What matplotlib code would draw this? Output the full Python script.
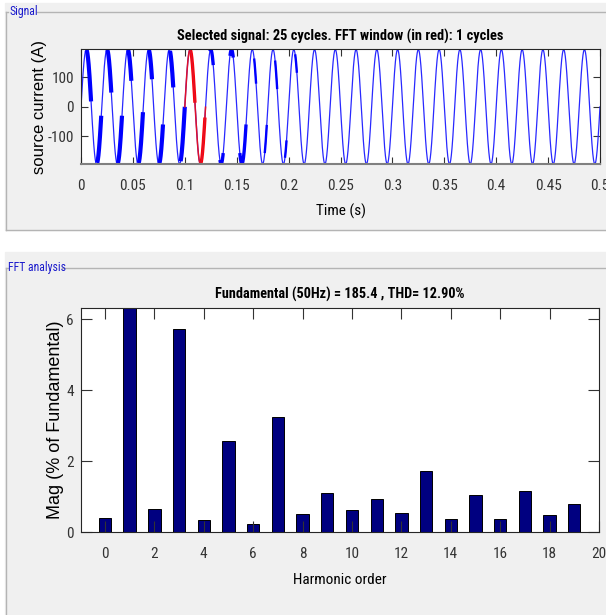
import numpy as np
import matplotlib
matplotlib.use("Agg")
import matplotlib.pyplot as plt
from matplotlib.patches import Rectangle
from matplotlib.lines import Line2D

# signal data
f0 = 50.0            # Hz
n_cycles = 25
peak = 195.0         # A, peak of displayed current
fft_win = (0.10, 0.12)
# time spans where the switching ripple makes the trace look thick
ripple_spans = [
    (0.0050, 0.0097), (0.0148, 0.0195),
    (0.0253, 0.0292), (0.0350, 0.0395),
    (0.0453, 0.0485), (0.0549, 0.0597),
    (0.0653, 0.0684), (0.0750, 0.0790),
    (0.0857, 0.0889), (0.0960, 0.1000),
    (0.1050, 0.1098), (0.1146, 0.1194),
    (0.1242, 0.1274), (0.1338, 0.1370),
    (0.1435, 0.1467), (0.1530, 0.1590),
    (0.1668, 0.1687), (0.1770, 0.1790),
    (0.1870, 0.1890), (0.1965, 0.1980),
    (0.2063, 0.2080),
]

# FFT data
harmonics = np.arange(0, 20)
mag = [0.39, 100.0, 0.65, 5.73, 0.33, 2.55, 0.23, 3.23, 0.51, 1.11,
       0.62, 0.93, 0.53, 1.73, 0.37, 1.03, 0.38, 1.15, 0.47, 0.78]
fundamental = 185.4
thd = 12.90

narrow = ['Liberation Sans Narrow', 'Roboto Condensed', 'Open Sans Condensed',
          'DejaVu Sans Condensed', 'Liberation Sans', 'DejaVu Sans']
wide = ['Liberation Sans', 'DejaVu Sans']
plt.rcParams['font.family'] = narrow
plt.rcParams['font.stretch'] = 'condensed'
plt.rcParams['axes.unicode_minus'] = False

W, H = 606, 615
fig = plt.figure(figsize=(W / 100, H / 100), dpi=100, facecolor='white')

def fx(x):
    return x / W

def fy(y):
    return 1 - y / H

# panel backgrounds
bg = '#f0f0f0'
fig.patches.append(Rectangle((fx(5), fy(230)), fx(W - 5), fy(3) - fy(230),
                             transform=fig.transFigure, color=bg, zorder=-10))
fig.patches.append(Rectangle((fx(5), 0), fx(W - 5), fy(252),
                             transform=fig.transFigure, color=bg, zorder=-10))
fc = '#b4b4b4'
for xs, ys in [((6, 8), (12, 12)), ((37, W), (12, 12)), ((6, 6), (12, 230)),
               ((6, W), (230, 230)),
               ((6, 8), (268, 268)), ((62, W), (268, 268)), ((6, 6), (268, H))]:
    fig.lines.append(Line2D([fx(v) for v in xs], [fy(v) for v in ys],
                            transform=fig.transFigure, color=fc, lw=1, zorder=-5))
fig.text(fx(9), fy(12), 'Signal', color='#1a1acc', fontsize=8.5, va='center')
fig.text(fx(8), fy(268), 'FFT analysis', color='#1a1acc', fontsize=8.5, va='center')

# ---- signal axes
ax1 = fig.add_axes([fx(81), fy(164), fx(600) - fx(81), fy(49) - fy(164)])
t = np.linspace(0, n_cycles / f0, 20001)
i_s = peak * np.sin(2 * np.pi * f0 * t)
ax1.plot(t, i_s, color='#2828ff', lw=0.9)
for a, b in ripple_spans:
    m = (t >= a) & (t <= b)
    lw = 3.0 if a < 0.1 else (2.4 if a < 0.16 else 1.7)
    col = 'red' if fft_win[0] <= a < fft_win[1] else '#0000ff'
    ax1.plot(t[m], i_s[m], color=col, lw=lw, solid_capstyle='butt')
w = (t >= fft_win[0]) & (t <= fft_win[1])
ax1.plot(t[w], i_s[w], color='#e0102a', lw=1.1)
ax1.set_xlim(0, 0.5)
ax1.set_ylim(-peak, peak + 2)
ax1.set_xticks(np.arange(0, 0.501, 0.05))
ax1.set_xticklabels(['0', '0.05', '0.1', '0.15', '0.2', '0.25', '0.3',
                     '0.35', '0.4', '0.45', '0.5'])
ax1.set_yticks([-100, 0, 100])
ax1.set_title('Selected signal: 25 cycles. FFT window (in red): 1 cycles',
              fontsize=10.4, fontweight='bold', pad=6)
ax1.set_xlabel('Time (s)', fontsize=11, labelpad=8)
ax1.set_ylabel('source current (A)', fontsize=12, family=wide,
               fontstretch='normal', va='center')
ax1.yaxis.set_label_coords((40 - 81) / 519, 0.5)

# ---- FFT axes
ax2 = fig.add_axes([fx(81), fy(532), fx(599) - fx(81), fy(308) - fy(532)])
ax2.bar(harmonics, mag, width=0.5, color='#000080', edgecolor='black', lw=0.7)
ax2.set_xlim(-0.97, 20)
ax2.set_ylim(0, 6.31)
ax2.set_xticks(np.arange(0, 21, 2))
ax2.set_yticks([0, 2, 4, 6])
ax2.set_title(f'Fundamental (50Hz) = {fundamental} , THD= {thd:.2f}%',
              fontsize=10.3, fontweight='bold', pad=7)
ax2.set_xlabel('Harmonic order', fontsize=11, labelpad=9)
ax2.set_ylabel('Mag (% of Fundamental)', fontsize=13, family=wide,
               fontstretch='normal', va='center')
ax2.yaxis.set_label_coords((56 - 81) / 518, 0.5)

for ax, tl in ((ax1, 5), (ax2, 8)):
    ax.set_facecolor('white')
    ax.tick_params(direction='in', top=True, right=True, length=tl,
                   width=0.8, labelsize=11, colors='#333333')
    ax.tick_params(axis='x', pad=10.5)
    ax.tick_params(axis='y', pad=5)
    for s in ax.spines.values():
        s.set_color('#262626')
        s.set_linewidth(0.8)
ax1.spines['bottom'].set_color('#808080')
ax1.spines['bottom'].set_linewidth(1.5)

fig.savefig('out.png', dpi=100, facecolor=fig.get_facecolor())
